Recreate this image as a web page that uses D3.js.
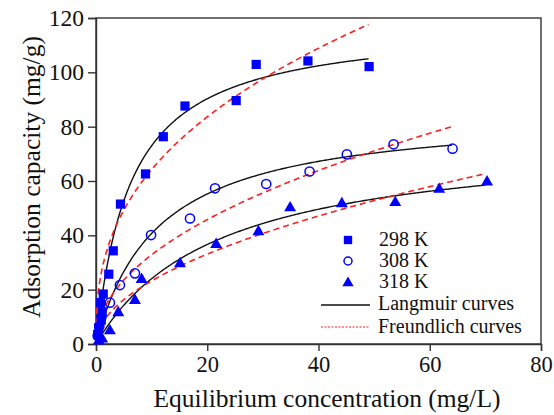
<!DOCTYPE html>
<html>
<head>
<meta charset="utf-8">
<script src="https://cdn.jsdelivr.net/npm/d3@7"></script>
<style>
  html, body { margin: 0; padding: 0; background: #fff; }
  svg { display: block; }
  text { font-family: "Liberation Serif", "Times New Roman", serif; fill: #111; }
</style>
</head>
<body>
<svg id="chart" width="554" height="415"></svg>
<script>
// ---- Data ----
const c298 = [0.3, 0.5, 0.95, 1.1, 0.8, 1.3, 2.3, 3.1, 4.4, 8.9, 12.1, 16.0, 25.2, 28.8, 38.1, 49.1];
const q298 = [3.5, 6.0, 8.8, 11.9, 15.2, 18.4, 25.7, 34.3, 51.5, 62.6, 76.3, 87.6, 89.6, 102.9, 104.2, 102.1];

const c308 = [0.3, 0.6, 1.0, 2.5, 4.3, 7.0, 9.9, 16.9, 21.4, 30.6, 38.4, 45.1, 53.5, 64.1];
const q308 = [3.0, 6.5, 10.0, 15.2, 21.7, 26.0, 40.1, 46.2, 57.3, 58.9, 63.5, 69.8, 73.5, 71.9];

const c318 = [0.5, 1.1, 2.5, 4.0, 7.0, 8.2, 15.1, 21.6, 29.2, 34.9, 44.2, 53.8, 61.7, 70.3];
const q318 = [1.5, 2.2, 5.2, 11.9, 16.4, 24.1, 29.9, 37.0, 41.7, 50.5, 52.0, 52.4, 57.3, 60.0];

// Fitted model parameters: [298 K, 308 K, 318 K]
const langmuirQm = [118.3, 85.9, 76.8];
const langmuirK  = [0.161, 0.09, 0.0456];
const freundlichKf = [26.7, 10.87, 7.18];
const freundlichN1 = [0.381, 0.48, 0.51];   // 1/n
const curveMaxC = [49, 64, 70];

const seriesLabels = ["298 K", "308 K", "318 K"];
const curveLabels = ["Langmuir curves", "Freundlich curves"];

const xTicks = [0, 20, 40, 60, 80];
const yTicks = [0, 20, 40, 60, 80, 100, 120];
const xTitle = "Equilibrium concentration (mg/L)";
const yTitle = "Adsorption capacity (mg/g)";

// ---- Layout ----
const svg = d3.select("#chart");
const mLeft = 96, mRight = 541, mTop = 18, mBottom = 344;
const x = d3.scaleLinear().domain([0, 80]).range([mLeft, mRight]);
const y = d3.scaleLinear().domain([0, 120]).range([mBottom, mTop]);
const blue = "#0000ff";
const red = "#ff1f1f";

// Frame
svg.append("rect")
  .attr("x", mLeft).attr("y", mTop)
  .attr("width", mRight - mLeft).attr("height", mBottom - mTop)
  .attr("fill", "none").attr("stroke", "#333").attr("stroke-width", 1.4);

// Axes
const xAxis = svg.append("g").attr("transform", `translate(0,${mBottom})`)
  .call(d3.axisBottom(x).tickValues(xTicks).tickSize(7).tickPadding(5));
const yAxis = svg.append("g").attr("transform", `translate(${mLeft},0)`)
  .call(d3.axisLeft(y).tickValues(yTicks).tickSize(8).tickPadding(4));
[xAxis, yAxis].forEach(a => {
  a.select(".domain").attr("stroke", "#333").attr("stroke-width", 1.4);
  a.selectAll(".tick line").attr("stroke", "#333").attr("stroke-width", 1.4);
  a.selectAll(".tick text").attr("fill", "#111");
});
xAxis.selectAll(".tick text").attr("font-size", 22.5);
yAxis.selectAll(".tick text").attr("font-size", 23.5);

// Titles
svg.append("text").attr("x", 327).attr("y", 407).attr("text-anchor", "middle")
  .attr("font-size", 25.5).text(xTitle);
svg.append("text").attr("transform", `translate(40,${(32 + 322) / 2}) rotate(-90)`)
  .attr("text-anchor", "middle").attr("font-size", 25.5).text(yTitle);

// Curves
const plot = svg.append("g");
const line = d3.line().x(d => x(d[0])).y(d => y(d[1]));
for (let i = 0; i < 3; i++) {
  const cs = d3.range(0, curveMaxC[i] + 0.001, curveMaxC[i] / 300);
  const lang = cs.map(c => [c, langmuirQm[i] * langmuirK[i] * c / (1 + langmuirK[i] * c)]);
  const freu = cs.map(c => [c, freundlichKf[i] * Math.pow(c, freundlichN1[i])]);
  plot.append("path").attr("d", line(lang)).attr("fill", "none")
    .attr("stroke", "#111").attr("stroke-width", 1.4);
  plot.append("path").attr("d", line(freu)).attr("fill", "none")
    .attr("stroke", red).attr("stroke-width", 1.6).attr("stroke-dasharray", "6,4");
}

// Points
const sq = d3.symbol().type(d3.symbolSquare).size(85);
const tri = d3.symbol().type(d3.symbolTriangle).size(62);
plot.selectAll(".sq").data(d3.zip(c298, q298)).join("path")
  .attr("d", sq).attr("transform", d => `translate(${x(d[0])},${y(d[1])})`).attr("fill", blue);
plot.selectAll(".ci").data(d3.zip(c308, q308)).join("circle")
  .attr("cx", d => x(d[0])).attr("cy", d => y(d[1])).attr("r", 4.6)
  .attr("fill", "none").attr("stroke", blue).attr("stroke-width", 1.5);
plot.selectAll(".tr").data(d3.zip(c318, q318)).join("path")
  .attr("d", tri).attr("transform", d => `translate(${x(d[0])},${y(d[1]) + 1})`).attr("fill", blue);

// Legend
const lg = svg.append("g");
const lx = 348, tx = 379;
const rows = [240, 261, 282];
const baselines = [246, 267, 288, 309.5, 332.5];
lg.append("path").attr("d", d3.symbol().type(d3.symbolSquare).size(70)).attr("transform", `translate(${lx},${rows[0]})`).attr("fill", blue);
lg.append("circle").attr("cx", lx).attr("cy", rows[1]).attr("r", 4).attr("fill", "none").attr("stroke", blue).attr("stroke-width", 1.5);
lg.append("path").attr("d", d3.symbol().type(d3.symbolTriangle).size(55)).attr("transform", `translate(${lx},${rows[2] + 1})`).attr("fill", blue);
seriesLabels.forEach((t, i) => {
  lg.append("text").attr("x", tx).attr("y", baselines[i]).attr("font-size", 20).text(t);
});
lg.append("line").attr("x1", 321).attr("x2", 370).attr("y1", 305).attr("y2", 305)
  .attr("stroke", "#111").attr("stroke-width", 1.4);
lg.append("line").attr("x1", 321).attr("x2", 370).attr("y1", 327).attr("y2", 327)
  .attr("stroke", red).attr("stroke-width", 1.2).attr("stroke-dasharray", "2,1.5");
curveLabels.forEach((t, i) => {
  lg.append("text").attr("x", tx - 1).attr("y", baselines[3 + i]).attr("font-size", 20).text(t);
});
</script>
</body>
</html>
